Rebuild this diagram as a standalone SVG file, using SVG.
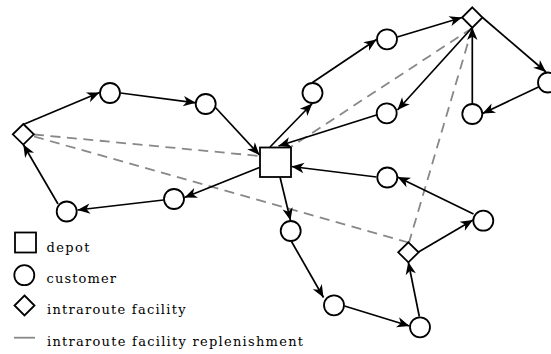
<svg xmlns="http://www.w3.org/2000/svg" width="551" height="354" viewBox="0 0 551 354">
<style>
.node{fill:#fff;stroke:#000;stroke-width:1.8}
.e{fill:none;stroke:#000;stroke-width:1.7;marker-end:url(#ah)}
.d{fill:none;stroke:#888;stroke-width:1.8;stroke-dasharray:10 6.5}
.t{font-family:"DejaVu Serif","Liberation Serif",serif;font-size:13px;fill:#000}
</style>
<defs>
<marker id="ah" viewBox="-14 -6 15 12" refX="0" refY="0" markerWidth="15" markerHeight="12" markerUnits="userSpaceOnUse" orient="auto">
<path d="M0,0 L-12.5,-5.2 L-9,0 L-12.5,5.2 Z" fill="#000"/>
</marker>
</defs>
<g id="connectors">
<g id="replenishment">
<line class="d" x1="34" y1="134.5" x2="259.5" y2="156"/>
<line class="d" x1="34" y1="136.5" x2="408.3" y2="242.5"/>
<line class="d" x1="472.3" y1="28" x2="291.5" y2="146.5"/>
<line class="d" x1="472.3" y1="28" x2="409" y2="242.5"/>
</g>
<g id="routes">
<line class="e" x1="23.3" y1="124.5" x2="99.5" y2="92.5"/>
<line class="e" x1="120.5" y1="93" x2="195.8" y2="102.8"/>
<line class="e" x1="215" y1="107" x2="259.5" y2="155"/>
<line class="e" x1="259.5" y1="167.5" x2="184.5" y2="197.5"/>
<line class="e" x1="163.5" y1="200" x2="77.5" y2="210"/>
<line class="e" x1="58" y1="204" x2="23.3" y2="144.5"/>
<line class="e" x1="270" y1="147" x2="312.3" y2="103.5"/>
<line class="e" x1="312.5" y1="82.5" x2="376.5" y2="39.5"/>
<line class="e" x1="397.3" y1="37" x2="462" y2="17.5"/>
<line class="e" x1="472.3" y1="27.5" x2="397.5" y2="110"/>
<line class="e" x1="376.5" y1="115" x2="278.5" y2="146"/>
<line class="e" x1="482.5" y1="17.5" x2="546" y2="72"/>
<line class="e" x1="538.5" y1="87" x2="482.5" y2="113.5"/>
<line class="e" x1="472.3" y1="103.5" x2="472.3" y2="27.5"/>
<line class="e" x1="376.5" y1="177" x2="291.5" y2="166.5"/>
<line class="e" x1="473.5" y1="214" x2="397.5" y2="177"/>
<line class="e" x1="418.5" y1="252" x2="473" y2="220"/>
<line class="e" x1="419.3" y1="316.5" x2="408.3" y2="262"/>
<line class="e" x1="344.5" y1="306" x2="409.5" y2="326"/>
<line class="e" x1="291.5" y1="241.5" x2="323.5" y2="297.5"/>
<line class="e" x1="280" y1="177" x2="290.5" y2="220.5"/>
</g>
</g>
<g id="depot"><rect class="node" x="260" y="147.5" width="31" height="29.5"/></g>
<g id="f1"><polygon class="node" points="23.3,124 33.8,134.3 23.3,144.6 12.8,134.3"/></g>
<g id="f2"><polygon class="node" points="472.3,7.3 482.5,17.5 472.3,27.7 462.1,17.5"/></g>
<g id="f3"><polygon class="node" points="408.4,242.3 418.6,252.3 408.4,262.3 398.2,252.3"/></g>
<g id="c1"><circle class="node" cx="110" cy="93" r="10"/></g>
<g id="c2"><circle class="node" cx="205.7" cy="104" r="10"/></g>
<g id="c3"><circle class="node" cx="66.7" cy="211.5" r="10"/></g>
<g id="c4"><circle class="node" cx="174" cy="199" r="10"/></g>
<g id="c5"><circle class="node" cx="312.5" cy="93" r="10"/></g>
<g id="c6"><circle class="node" cx="387" cy="39.3" r="10"/></g>
<g id="c7"><circle class="node" cx="548" cy="82.5" r="10"/></g>
<g id="c8"><circle class="node" cx="472.3" cy="114" r="10"/></g>
<g id="c9"><circle class="node" cx="386.7" cy="113.3" r="10"/></g>
<g id="c10"><circle class="node" cx="387.3" cy="177.5" r="10"/></g>
<g id="c11"><circle class="node" cx="483.3" cy="220.7" r="10"/></g>
<g id="c12"><circle class="node" cx="290.7" cy="231" r="10"/></g>
<g id="c13"><circle class="node" cx="334" cy="305.3" r="10"/></g>
<g id="c14"><circle class="node" cx="420" cy="327.3" r="10"/></g>
<g id="legend">
<rect class="node" x="15" y="232.5" width="21" height="20"/>
<circle class="node" cx="24.3" cy="275.2" r="10"/>
<polygon class="node" points="24.5,295.5 34.5,305.5 24.5,315.5 14.5,305.5"/>
<line x1="14" y1="337.7" x2="35" y2="337.7" stroke="#888" stroke-width="1.8"/>
<text class="t" x="46.5" y="252" textLength="43" lengthAdjust="spacing">depot</text>
<text class="t" x="46.5" y="283" textLength="69.5" lengthAdjust="spacing">customer</text>
<text class="t" x="47" y="314" textLength="138.5" lengthAdjust="spacing">intraroute facility</text>
<text class="t" x="47" y="345.5" textLength="256" lengthAdjust="spacing">intraroute facility replenishment</text>
</g>
</svg>
